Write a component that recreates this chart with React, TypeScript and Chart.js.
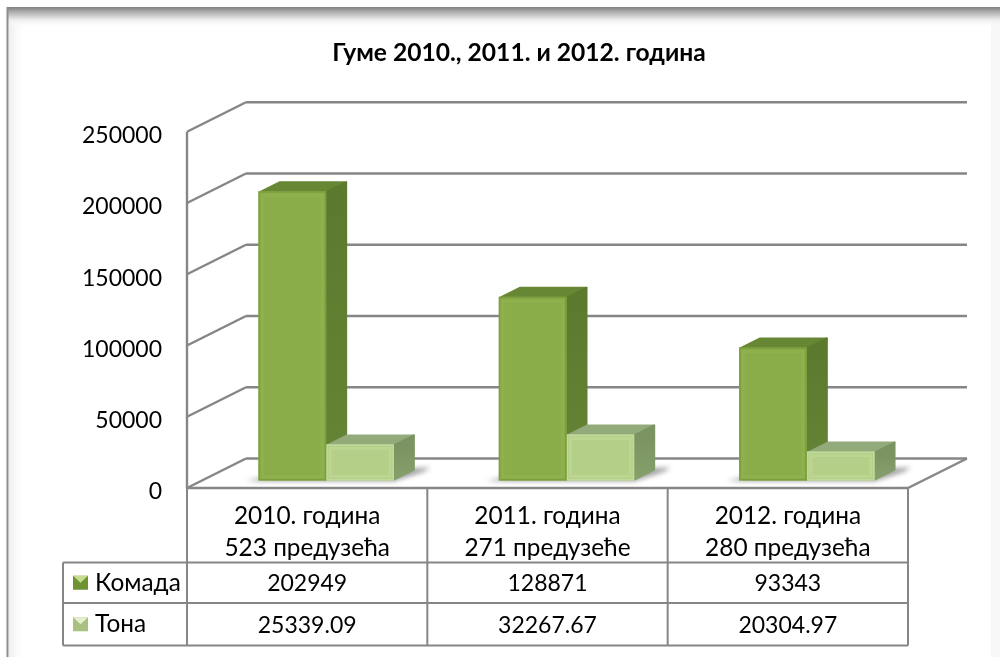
import React, { useEffect, useRef } from "react";
import { Chart, registerables } from "chart.js";

Chart.register(...registerables);

const title = "Гуме 2010., 2011. и 2012. година";
const categories = [
  ["2010. година", "523 предузећа"],
  ["2011. година", "271 предузеће"],
  ["2012. година", "280 предузећа"],
];
const seriesNames = ["Комада", "Тона"];
const komada = [202949, 128871, 93343];
const tona = [25339.09, 32267.67, 20304.97];
const yMax = 250000;
const yStep = 50000;

const FONT = "Lato, Carlito, sans-serif";
const LINE = "#868686";
const DEPTH_X = 59;
const DEPTH_Y = -29.5;
const BAR_DX = 19;
const BAR_DY = -7.5;
const BAR_DEPTH_X = 21;
const BAR_DEPTH_Y = -11;
const ROW_TOP = 562.5;
const ROW_MID = 603;
const ROW_BOTTOM = 645.5;
const TABLE_LEFT = 63;

const faces = [
  { sideTop: "#5c7a2e", sideBottom: "#668535", top: "#678734", edge: "#7c9f3f", glow: "rgba(165,198,100,0.16)" },
  { sideTop: "#7a9360", sideBottom: "#86a06c", top: "#93aa7b", edge: "#c2d99d", glow: "rgba(210,230,170,0.25)" },
];

function line(ctx: CanvasRenderingContext2D, x1: number, y1: number, x2: number, y2: number) {
  ctx.beginPath();
  ctx.moveTo(x1, y1);
  ctx.lineTo(x2, y2);
  ctx.stroke();
}

function poly(ctx: CanvasRenderingContext2D, pts: number[][], fill: any, round = false) {
  ctx.beginPath();
  pts.forEach((p, i) => (i ? ctx.lineTo(p[0], p[1]) : ctx.moveTo(p[0], p[1])));
  ctx.closePath();
  ctx.fillStyle = fill;
  ctx.fill();
  if (round) {
    ctx.save();
    ctx.strokeStyle = fill;
    ctx.lineWidth = 2;
    ctx.lineJoin = "round";
    ctx.stroke();
    ctx.restore();
  }
}

function drawDepthFaces(ctx: CanvasRenderingContext2D, meta: any, f: any) {
  meta.data.forEach((bar: any) => {
    const l = bar.x - bar.width / 2;
    const r = bar.x + bar.width / 2;
    const t = bar.y + 1;
    const b = bar.base - 1;
    poly(ctx, [[l + 1, t], [l + BAR_DEPTH_X, t + BAR_DEPTH_Y + 1], [r + BAR_DEPTH_X - 1, t + BAR_DEPTH_Y + 1], [r, t]], f.top, true);
    const g = ctx.createLinearGradient(0, t, 0, b);
    g.addColorStop(0, f.sideTop);
    g.addColorStop(1, f.sideBottom);
    poly(ctx, [[r, t], [r + BAR_DEPTH_X - 1, t + BAR_DEPTH_Y + 1], [r + BAR_DEPTH_X - 1, b + BAR_DEPTH_Y + 1], [r, b]], g, true);
  });
}

const framePlugin = {
  id: "frame",
  beforeDraw(chart: any) {
    const ctx: CanvasRenderingContext2D = chart.ctx;
    const w = chart.width;
    const h = chart.height;
    ctx.save();
    ctx.fillStyle = "#ffffff";
    ctx.fillRect(0, 0, w, h);
    ctx.fillStyle = "#f8f8f8";
    ctx.fillRect(991, 9, 9, h - 9);
    let g = ctx.createLinearGradient(9, 0, 26, 0);
    g.addColorStop(0, "rgba(220,220,220,0.5)");
    g.addColorStop(1, "rgba(255,255,255,0)");
    ctx.fillStyle = g;
    ctx.fillRect(9, 9, 17, h - 9);
    g = ctx.createLinearGradient(0, 7, 0, 28);
    g.addColorStop(0, "#7f7f7f");
    g.addColorStop(0.2, "#a8a8a8");
    g.addColorStop(0.6, "#ececec");
    g.addColorStop(1, "rgba(255,255,255,0)");
    ctx.fillStyle = g;
    ctx.fillRect(7, 7, 993, 21);
    ctx.fillStyle = "#8c8c8c";
    ctx.fillRect(6.5, 7, 2, h - 7);
    ctx.restore();
  },
};

const wallPlugin = {
  id: "walls",
  beforeDatasetsDraw(chart: any) {
    const ctx: CanvasRenderingContext2D = chart.ctx;
    const { left, right } = chart.chartArea;
    const y = chart.scales.y;
    ctx.save();
    ctx.strokeStyle = LINE;
    ctx.lineWidth = 2.4;
    y.ticks.forEach((t: any) => {
      const py = y.getPixelForValue(t.value);
      line(ctx, left, py, left + DEPTH_X, py + DEPTH_Y);
      line(ctx, left + DEPTH_X, py + DEPTH_Y, right + DEPTH_X, py + DEPTH_Y);
    });
    const y0 = y.getPixelForValue(0);
    line(ctx, left, y.getPixelForValue(yMax), left, y0);
    line(ctx, left, y0, right, y0);
    line(ctx, right, y0, right + DEPTH_X, y0 + DEPTH_Y);
    ctx.restore();

    ctx.save();
    ctx.translate(BAR_DX, BAR_DY);
    const m0 = chart.getDatasetMeta(0);
    const m1 = chart.getDatasetMeta(1).data;
    m0.data.forEach((bar: any, i: number) => {
      const b1 = m1[i];
      const x0 = bar.x - bar.width / 2;
      const x1 = b1.x + b1.width / 2;
      ctx.save();
      ctx.filter = "blur(2.5px)";
      poly(
        ctx,
        [
          [x0 - 12, bar.base + 0.5],
          [x0 + 8, bar.base - 4],
          [x1 + 36, bar.base - 13],
          [x1 + 30, bar.base - 9],
          [x1, bar.base + 0.5],
        ],
        "#9b9b9b",
      );
      ctx.restore();
    });
    // Chart.js paints the last dataset first: the first series' depth goes under everything.
    drawDepthFaces(ctx, m0, faces[0]);
  },
  beforeDatasetDraw(chart: any, args: any) {
    if (args.index === 1) drawDepthFaces(chart.ctx, args.meta, faces[1]);
  },
  afterDatasetDraw(chart: any, args: any) {
    const ctx: CanvasRenderingContext2D = chart.ctx;
    const f = faces[args.index];
    args.meta.data.forEach((bar: any) => {
      const l = bar.x - bar.width / 2;
      const t = bar.y;
      const hgt = bar.base - bar.y;
      ctx.save();
      ctx.lineWidth = 1.5;
      ctx.strokeStyle = f.edge;
      ctx.strokeRect(l + 0.75, t + 0.75, bar.width - 1.5, hgt - 1.5);
      ctx.lineWidth = 3;
      ctx.strokeStyle = f.glow;
      ctx.strokeRect(l + 4, t + 4, bar.width - 8, hgt - 8);
      ctx.restore();
    });
  },
  afterDatasetsDraw(chart: any) {
    chart.ctx.restore();
  },
};

const tablePlugin = {
  id: "dataTable",
  afterDraw(chart: any) {
    const ctx: CanvasRenderingContext2D = chart.ctx;
    const { left, right, bottom } = chart.chartArea;
    const x = chart.scales.x;
    const step = (right - left) / categories.length;
    ctx.save();
    ctx.strokeStyle = LINE;
    ctx.lineWidth = 2;
    line(ctx, TABLE_LEFT, ROW_TOP, right, ROW_TOP);
    line(ctx, TABLE_LEFT, ROW_MID, right, ROW_MID);
    line(ctx, TABLE_LEFT, ROW_BOTTOM, right, ROW_BOTTOM);
    line(ctx, TABLE_LEFT, ROW_TOP, TABLE_LEFT, ROW_BOTTOM);
    for (let i = 0; i <= categories.length; i++) {
      const px = left + step * i;
      line(ctx, px, bottom, px, ROW_BOTTOM);
    }
    ctx.font = `23px ${FONT}`;
    ctx.fillStyle = "#000";
    ctx.textBaseline = "middle";
    ctx.textAlign = "center";
    const rows = [komada, tona];
    const centers = [(ROW_TOP + ROW_MID) / 2, (ROW_MID + ROW_BOTTOM) / 2];
    rows.forEach((vals, r) => {
      vals.forEach((v, i) => ctx.fillText(String(v), x.getPixelForValue(i), centers[r] + 1));
    });
    ctx.textAlign = "left";
    ctx.font = `24.4px ${FONT}`;
    seriesNames.forEach((name, r) => {
      const cy = centers[r];
      const kx = 73;
      const ky = cy - 7;
      const pal = r === 0 ? ["#6f9233", "#9bbb59", "#c6dc8e"] : ["#a8c080", "#c3d69b", "#e6f0cf"];
      ctx.fillStyle = pal[0];
      ctx.fillRect(kx, ky, 15, 14);
      poly(ctx, [[kx, ky], [kx + 15, ky], [kx + 7.5, ky + 7]], pal[2]);
      ctx.fillStyle = "#000";
      ctx.fillText(name, 95, cy);
    });
    ctx.restore();
  },
};

export default function App() {
  const ref = useRef<HTMLCanvasElement>(null);
  useEffect(() => {
    const chart = new Chart(ref.current!, {
      type: "bar",
      data: {
        labels: categories,
        datasets: [
          { label: seriesNames[0], data: komada, backgroundColor: "#8aad4a", barPercentage: 1, categoryPercentage: 0.5634 },
          { label: seriesNames[1], data: tona, backgroundColor: "#b4cf88", barPercentage: 1, categoryPercentage: 0.5634 },
        ],
      },
      options: {
        animation: false,
        responsive: false,
        devicePixelRatio: 1,
        clip: false,
        layout: { padding: { left: 38, right: 0, top: 0, bottom: 0 } },
        plugins: {
          legend: { display: false },
          tooltip: { enabled: false },
          title: {
            display: true,
            text: title,
            color: "#000",
            font: { family: FONT, size: 24.6, weight: "bold", lineHeight: 1.2 },
            padding: { top: 38, bottom: 64.2 },
          },
        },
        scales: {
          x: {
            grid: { display: false },
            border: { display: false },
            afterFit(s: any) {
              s.height = 169;
            },
            ticks: {
              color: "#000",
              padding: 4,
              maxRotation: 0,
              autoSkip: false,
              font: { family: FONT, size: 24.4, lineHeight: 1.32 },
            },
          },
          y: {
            min: 0,
            max: yMax,
            grid: { display: false },
            border: { display: false },
            afterFit(s: any) {
              s.width = 149;
            },
            ticks: {
              stepSize: yStep,
              color: "#000",
              padding: 17,
              font: { family: FONT, size: 23, lineHeight: "8px" },
              callback: (v: any) => ["", String(v)],
            },
          },
          // empty margin on the right, so that the title stays centred over the whole frame
          rightMargin: {
            type: "linear",
            position: "right",
            grid: { display: false },
            border: { display: false },
            ticks: { display: false },
            afterFit(s: any) {
              s.width = 92;
            },
          },
        },
      } as any,
      plugins: [framePlugin, wallPlugin, tablePlugin],
    });
    return () => chart.destroy();
  }, []);
  return (
    <div style={{ position: "fixed", left: 0, top: 0, width: 1000, height: 657 }}>
      <canvas ref={ref} width={1000} height={657} style={{ display: "block" }} />
    </div>
  );
}
